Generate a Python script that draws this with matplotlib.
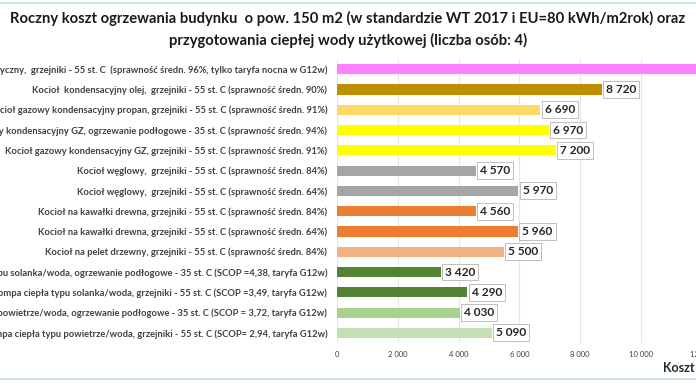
import matplotlib.pyplot as plt
from matplotlib.lines import Line2D

plt.rcParams['font.family'] = ['Lato', 'DejaVu Sans']

# top to bottom as in the picture
labels = [
    "Ogrzewanie elektryczny,  grzejniki - 55 st. C  (sprawność średn. 96%, tylko taryfa nocna w G12w)",
    "Kocioł  kondensacyjny olej,  grzejniki - 55 st. C (sprawność średn. 90%)",
    "Kocioł gazowy kondensacyjny propan, grzejniki - 55 st. C (sprawność średn. 91%)",
    "Kocioł gazowy kondensacyjny GZ, ogrzewanie podłogowe - 35 st. C (sprawność średn. 94%)",
    "Kocioł gazowy kondensacyjny GZ, grzejniki - 55 st. C (sprawność średn. 91%)",
    "Kocioł węglowy,  grzejniki - 55 st. C (sprawność średn. 84%)",
    "Kocioł węglowy,  grzejniki - 55 st. C (sprawność średn. 64%)",
    "Kocioł na kawałki drewna, grzejniki - 55 st. C (sprawność średn. 84%)",
    "Kocioł na kawałki drewna, grzejniki - 55 st. C (sprawność średn. 64%)",
    "Kocioł na pelet drzewny, grzejniki - 55 st. C (sprawność średn. 84%)",
    "Pompa ciepła typu solanka/woda, ogrzewanie podłogowe - 35 st. C (SCOP =4,38, taryfa G12w)",
    "Pompa ciepła typu solanka/woda, grzejniki - 55 st. C (SCOP =3,49, taryfa G12w)",
    "Pompa ciepła typu powietrze/woda, ogrzewanie podłogowe - 35 st. C (SCOP = 3,72, taryfa G12w)",
    "Pompa ciepła typu powietrze/woda, grzejniki - 55 st. C (SCOP= 2,94, taryfa G12w)",
]
values = [13000, 8720, 6690, 6970, 7200, 4570, 5970, 4560, 5960, 5500, 3420, 4290, 4030, 5090]
colors = ['#ff80ff', '#bf8f00', '#ffd966', '#ffff00', '#ffff00', '#a5a5a5', '#a5a5a5',
          '#ed7d31', '#ed7d31', '#f4b183', '#548235', '#548235', '#a9d18e', '#c5e0b4']
xticks = [0, 2000, 4000, 6000, 8000, 10000, 12000, 14000]
xticklabels = ['0', '2 000', '4 000', '6 000', '8 000', '10 000', '12 000', '14 000']

fig = plt.figure(figsize=(6.96, 3.85), dpi=100)
ax = fig.add_axes([337 / 696, 1 - 343 / 385, 425.6 / 696, 284 / 385])

pos = list(range(len(values)))
ax.barh(pos, values, height=0.5, color=colors, zorder=3)
ax.set_ylim(len(values) - 0.5, -0.5)
ax.set_xlim(0, 14000)
ax.set_xticks(xticks)
ax.set_xticklabels(xticklabels, fontsize=5.5, color='#404040')
ax.set_yticks(pos)
ax.set_yticklabels(labels, fontsize=6.75, fontweight='bold', color='#404040')
ax.tick_params(axis='y', length=0, pad=7)
ax.tick_params(axis='x', length=0, pad=6)
ax.grid(axis='x', color='#e6e6e6', lw=0.8, zorder=0)
for s in ax.spines.values():
    s.set_visible(False)

for i, v in enumerate(values):
    txt = f"{v:,}".replace(',', ' ')
    ax.annotate(txt, (v, i), xytext=(3, 0), textcoords='offset points',
                ha='left', va='center', fontsize=8.6, fontweight='bold', color='#262626',
                bbox=dict(boxstyle='square,pad=0.25', fc='white', ec='#bfbfbf', lw=0.7),
                annotation_clip=False, zorder=4)

fig.text(0.5, 1 - 18 / 385,
         "Roczny koszt ogrzewania budynku  o pow. 150 m2 (w standardzie WT 2017 i EU=80 kWh/m2rok) oraz",
         ha='center', va='center', fontsize=10.6, fontweight='bold', color='#1a1a1a')
fig.text(0.5, 1 - 40 / 385,
         "przygotowania ciepłej wody użytkowej (liczba osób: 4)",
         ha='center', va='center', fontsize=10.6, fontweight='bold', color='#1a1a1a')
fig.text(663 / 696, 1 - 367 / 385, "Koszt roczny [zł]", ha='left', va='center',
         fontsize=9, fontweight='bold', color='#262626')

for y in (1 - 3 / 385, 1 - 379 / 385):
    fig.add_artist(Line2D([0, 1], [y, y], color='#cfe0ea', lw=1.5))

fig.savefig('out.png', dpi=100)
